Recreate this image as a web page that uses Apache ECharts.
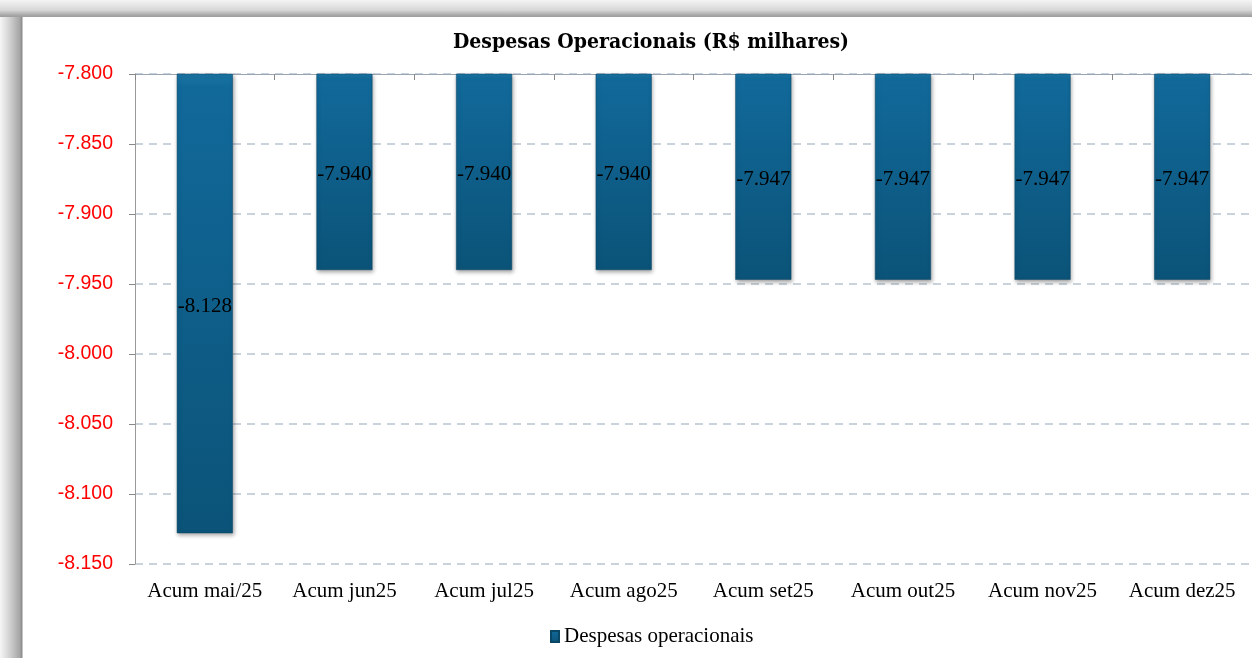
<!DOCTYPE html>
<html><head><meta charset="utf-8">
<script src="https://cdn.jsdelivr.net/npm/echarts@6/dist/echarts.min.js"></script>
<style>
html,body{margin:0;padding:0;width:1252px;height:658px;overflow:hidden;background:#fff;}
#frame{position:absolute;left:0;top:0;width:1252px;height:658px;
 background:linear-gradient(to bottom,#f4f4f4 0px,#d8d8d8 10px,#a0a0a0 16px,#a0a0a0 17px,transparent 17px),
            linear-gradient(to right,#f6f6f6 0px,#d0d0d0 10px,#a4a4a4 20px,#8a8a8a 22px,transparent 23px);}
#chart{position:absolute;left:0;top:0;width:1252px;height:658px;}
</style></head>
<body>
<div id="frame"></div>
<div id="chart"></div>
<script>
const categories = ['Acum mai/25','Acum jun25','Acum jul25','Acum ago25','Acum set25','Acum out25','Acum nov25','Acum dez25'];
const despesas = [-8128, -7940, -7940, -7940, -7947, -7947, -7947, -7947];
const seriesName = 'Despesas operacionais';
const titleText = 'Despesas Operacionais (R$ milhares)';

function fmt(v){
  const s = Math.abs(v).toString();
  const t = s.length > 3 ? s.slice(0, s.length-3) + '.' + s.slice(s.length-3) : s;
  return (v < 0 ? '-' : '') + t;
}

const chart = echarts.init(document.getElementById('chart'), null, {renderer:'canvas'});
chart.setOption({
  animation:false,
  backgroundColor:'transparent',
  graphic:[{type:'rect',left:23,top:18,shape:{width:1240,height:650},style:{fill:'#fff'},z:-10,silent:true}],
  title:{text:titleText,left:646,textAlign:'center',top:27,
    textStyle:{fontFamily:'DejaVu Serif Condensed',fontWeight:'bold',fontSize:21,color:'#000'}},
  legend:{data:[seriesName],top:621,itemWidth:8,itemHeight:11,itemGap:2,
    icon:'rect',textStyle:{fontFamily:'Liberation Serif',fontSize:21,color:'#000'},
    left:545},
  grid:{left:135,right:0,top:74,bottom:94,containLabel:false},
  xAxis:[{
    type:'category',data:categories,position:'top',
    axisLine:{show:true,lineStyle:{color:'#9aa6b4',width:1}},
    axisTick:{show:true,inside:true,length:6,lineStyle:{color:'#888'}},
    axisLabel:{show:false},splitLine:{show:false}
  },{
    type:'category',data:categories,position:'bottom',
    axisLine:{show:false},axisTick:{show:false},
    axisLabel:{show:true,interval:0,margin:17,fontFamily:'Liberation Serif',fontSize:21,color:'#000'}
  }],
  yAxis:{
    type:'value',min:-8150,max:-7800,interval:50,
    axisLine:{show:true,lineStyle:{color:'#999'}},
    axisTick:{show:true,length:6,lineStyle:{color:'#888'}},
    axisLabel:{formatter:fmt,fontFamily:'Liberation Sans',fontSize:19.5,color:'#ff0000',margin:22},
    splitLine:{show:true,lineStyle:{type:[8,6],color:'#b9c3cf',width:1.5}}
  },
  series:[{
    name:seriesName,type:'bar',data:despesas,barWidth:56,xAxisIndex:0,
    itemStyle:{
      color:new echarts.graphic.LinearGradient(0,0,0,1,[
        {offset:0,color:'#1a74a3'},{offset:0.03,color:'#11699a'},{offset:1,color:'#0b5378'}]),
      borderColor:'#0a4764',borderWidth:0.5,
      shadowColor:'rgba(0,0,0,0.35)',shadowBlur:4,shadowOffsetX:1,shadowOffsetY:2
    },
    label:{show:true,position:'inside',offset:[0,3],formatter:p=>fmt(p.value),
      fontFamily:'Liberation Serif',fontSize:21,color:'#000'}
  }]
});
</script>
</body></html>
